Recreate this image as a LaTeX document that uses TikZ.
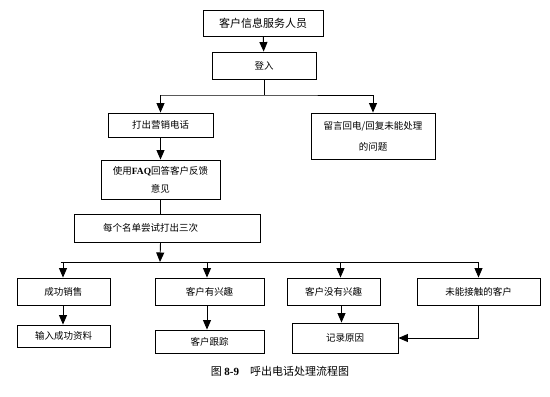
\documentclass[tikz,border=0pt]{standalone}
\usepackage{fontspec}
\setmainfont{Noto Sans CJK SC}
\newfontfamily\latinfont{Liberation Serif}
\usetikzlibrary{arrows.meta}
\usetikzlibrary{positioning}

\begin{document}
\begin{tikzpicture}[x=1pt,y=-1pt,
  every node/.style={font=\fontsize{9.5}{12}\selectfont,text=black},
  box/.style={draw,line width=0.9pt,rectangle,inner sep=0pt,align=center},
  arr/.style={line width=0.9pt,-{Triangle[length=9.5pt,width=8pt]}},
  ln/.style={line width=0.9pt}]
\useasboundingbox (0,0) rectangle (550,397);
% top part
\node[box,minimum width=120pt,minimum height=26pt,font=\fontsize{11}{13}\selectfont] (staff) at (263,23) {客户信息服务人员};
\node[box,minimum width=104pt,minimum height=27pt] (login) at (264,65.5) {登入};
\coordinate (split1) at (264,95);
\node[box,minimum width=105pt,minimum height=24pt] (call) at (160.5,125) {打出营销电话};
\node[box,minimum width=124pt,minimum height=46pt,font=\fontsize{9.5}{21}\selectfont] (reply) at (373,136) {留言回电/回复未能处理\\的问题};
\node[box,minimum width=119pt,minimum height=39pt,font=\fontsize{9.5}{18}\selectfont] (faq) at (160.5,179.5) {使用{\latinfont\bfseries FAQ}回答客户反馈\\意见};
\node[box,minimum height=28pt,inner xsep=29pt,text width=128pt,align=left] (try) at (167,228) {每个名单尝试打出三次};
\coordinate (split2) at (160,262);
% result row
\node[box,minimum width=93pt,minimum height=27pt] (sold) at (63.5,291.5) {成功销售};
\node[box,minimum width=109pt,minimum height=27pt] (keen) at (209.5,291.5) {客户有兴趣};
\node[box,minimum width=93pt,minimum height=27pt] (nokeen) at (333.5,291.5) {客户没有兴趣};
\node[box,minimum width=123pt,minimum height=27pt] (miss) at (478.5,291.5) {未能接触的客户};
\node[box,minimum width=93pt,minimum height=22pt] (input) at (63.5,336) {输入成功资料};
\node[box,minimum width=109pt,minimum height=23pt] (track) at (209.5,341.5) {客户跟踪};
\node[box,minimum width=106pt,minimum height=30pt] (reason) at (345,338) {记录原因};
% connectors
\draw[arr] (staff) -- (login);
\draw[ln] (login) -- (split1);
\draw[ln] (call.north |- split1) -- (split1) -- (reply.north |- split1);
\draw[arr] (split1 -| call.north) -- (call.north);
\draw[arr] (split1 -| reply.north) -- (reply.north);
\draw[arr] (call) -- (faq);
\draw[ln] (faq.south) -- (faq.south |- try.north);
\draw[arr] (faq.south |- try.south) -- (split2);
\draw[ln] ([xshift=-3pt]sold.north |- split2) -- (miss.north |- split2);
\draw[arr] ([xshift=-0.5pt]sold.north |- split2) -- ([xshift=-0.5pt]sold.north);
\draw[arr] ([xshift=-2.5pt]keen.north |- split2) -- ([xshift=-2.5pt]keen.north);
\draw[arr] ([xshift=7pt]nokeen.north |- split2) -- ([xshift=7pt]nokeen.north);
\draw[arr] (miss.north |- split2) -- (miss.north);
\draw[arr] ([xshift=-0.5pt]sold.south) -- ([xshift=-0.5pt]input.north);
\draw[arr] ([xshift=-2.5pt]keen.south) -- ([xshift=-2.5pt]track.north);
\draw[arr] ([xshift=8pt]nokeen.south) -- ([xshift=8pt]nokeen.south |- reason.north);
\draw[arr] (miss.south) |- (reason.east);
% caption
\node[font=\fontsize{11}{13}\selectfont] (caption) at (280,371) {图 {\latinfont\bfseries 8-9}\quad 呼出电话处理流程图};
\end{tikzpicture}
\end{document}
